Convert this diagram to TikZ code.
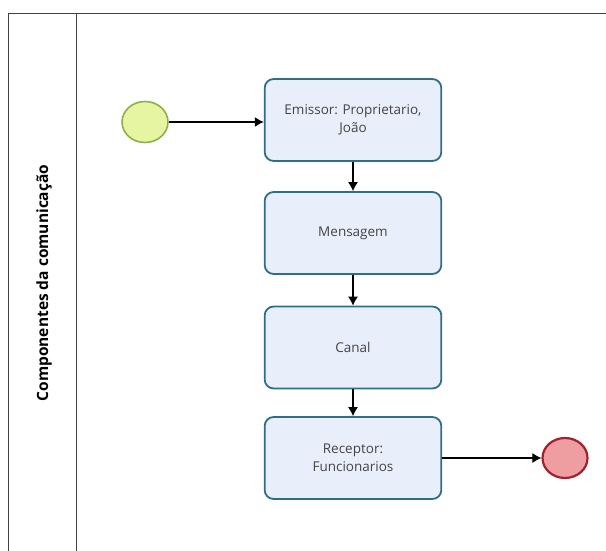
\documentclass[tikz,border=0pt]{standalone}
\usepackage{fontspec}
\setmainfont{Open Sans}
\frenchspacing
\usepackage{tikz}
\usetikzlibrary{positioning,arrows.meta,shapes.geometric}
\definecolor{taskfill}{HTML}{E8EEFA}
\definecolor{taskline}{HTML}{2F6E86}
\definecolor{startfill}{HTML}{E6F5A2}
\definecolor{startline}{HTML}{8DB04A}
\definecolor{endfill}{HTML}{EE9DA0}
\definecolor{endline}{HTML}{A3202E}
\definecolor{tasktext}{HTML}{444444}

\tikzset{
  task/.style={draw=taskline, fill=taskfill, line width=1.8pt, rounded corners=9pt,
    minimum width=176pt, minimum height=82pt, align=center, text width=170pt,
    text=tasktext, font=\fontsize{13.5}{18}\selectfont},
  flow/.style={-{Latex[length=9pt,width=10pt]}, line width=1.1pt},
}

\begin{document}
\begin{tikzpicture}[x=1pt,y=-1pt]
  \useasboundingbox (0,0) rectangle (606,551);
  % pool and lane
  \draw[line width=1pt, black!75] (606,14) -- (8,14) -- (8,551);
  \draw[line width=1pt, black!75] (76,14) -- (76,551);
  \node[rotate=90, font=\fontsize{15.5}{18}\selectfont\bfseries] (lane) at (44,283) {Componentes da comunicação};
  % events
  \node[ellipse, draw=startline, fill=startfill, line width=1.6pt, minimum width=46pt, minimum height=41pt] (start) at (145,122) {};
  \node[ellipse, draw=endline, fill=endfill, line width=2.2pt, minimum width=45pt, minimum height=40pt] (end) at (565,458) {};
  % tasks
  \node[task] (emissor) at (353,120) {Emissor: Proprietario,\\ João};
  \node[task] (mensagem) at (353,233) {Mensagem};
  \node[task] (canal) at (353,347.5) {Canal};
  \node[task] (receptor) at (353,458) {Receptor:\\ Funcionarios};
  % flows
  \draw[flow] (start) -- (start -| emissor.west);
  \draw[flow] (emissor) -- (mensagem);
  \draw[flow] (mensagem) -- (canal);
  \draw[flow] (canal) -- (receptor);
  \draw[flow] (receptor) -- (end);
\end{tikzpicture}
\end{document}
